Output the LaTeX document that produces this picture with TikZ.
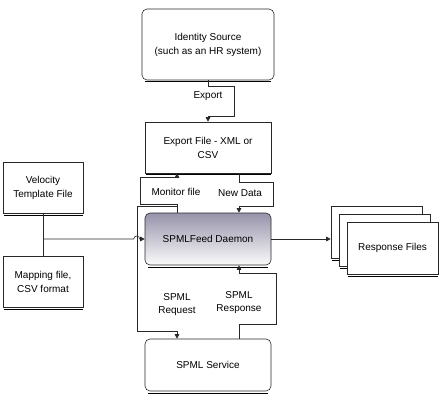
\documentclass[tikz,border=0pt]{standalone}
\usepackage{fontspec}
\setmainfont{Liberation Sans}
\usetikzlibrary{arrows.meta}

\definecolor{daemontop}{RGB}{150,147,170}
\definecolor{linegray}{RGB}{40,40,40}

\tikzset{
    box/.style={draw=linegray, fill=white, line width=0.6pt, align=center,
        font=\fontsize{10}{14}\selectfont,
        append after command={[draw=black!75, line width=2.4pt]
            ([xshift=0.8pt,yshift=-1.4pt]\tikzlastnode.south west)
            edge ([xshift=-0.8pt,yshift=-1.4pt]\tikzlastnode.south east)}},
    rbox/.style={draw=linegray, fill=white, line width=0.6pt, align=center,
        font=\fontsize{10}{14}\selectfont, rounded corners=5pt,
        append after command={[draw=black!75, line width=2.4pt]
            ([xshift=3.5pt,yshift=-1.4pt]\tikzlastnode.south west)
            edge ([xshift=-3.5pt,yshift=-1.4pt]\tikzlastnode.south east)}},
    conn/.style={draw=linegray, line width=0.6pt},
    arr/.style={conn, -{Triangle[length=4.5pt,width=4.5pt]}},
    lbl/.style={align=center, font=\fontsize{10}{13}\selectfont}
}

\begin{document}
\begin{tikzpicture}[x=1pt,y=1pt]

    \useasboundingbox[fill=white] (0,0) rectangle (440,400);

    % boxes
    \node[rbox, minimum width=132pt, minimum height=71pt] (ident) at (208,355.5)
        {Identity Source\\(such as an HR system)};
    \node[box, minimum width=126pt, minimum height=51pt] (expfile) at (208,252.5)
        {Export File - XML or\\CSV};
    \node[rbox, minimum width=126pt, minimum height=52pt,
        top color=daemontop, bottom color=white!96!daemontop] (daemon) at (208,161)
        {SPMLFeed Daemon};
    \node[rbox, minimum width=126pt, minimum height=52pt] (service) at (208,35)
        {SPML Service};
    \node[box, minimum width=80pt, minimum height=51pt] (velocity) at (43,212.5)
        {Velocity\\Template File};
    \node[box, minimum width=80pt, minimum height=51pt] (mapping) at (43,118.5)
        {Mapping file,\\CSV format};

    % stack of response files
    \node[box, minimum width=91pt, minimum height=52pt] (back) at (376.5,168) {};
    \node[box, minimum width=91pt, minimum height=52pt] (middle) at (384.5,160) {};
    \node[box, minimum width=91pt, minimum height=52pt] (front) at (392.5,152)
        {Response Files};

    % connectors
    \draw[arr] (ident.south) -- ++(0,-6) -- ++(26,0) -- ++(0,-30) -- ++(-26,0)
        -- (expfile.north);
    \draw[arr] ([xshift=-31pt]daemon.north) -- ++(0,8) -- ++(-37,0) -- ++(0,27)
        -- ++(37,0) -- ([xshift=-31pt]expfile.south);
    \draw[arr] ([xshift=31pt]expfile.south) -- ++(0,-9) -- ++(34,0) -- ++(0,-24)
        -- ++(-34,0) -- ([xshift=31pt]daemon.north);
    \draw[arr] ([xshift=-31pt]daemon.north) -- ++(0,6) -- ++(-40,0) -- ++(0,-125)
        -- ++(40,0) -- ([xshift=-31pt]service.north);
    \draw[arr] ([xshift=31pt]service.north) -- ++(0,14) -- ++(37,0) -- ++(0,51)
        -- ++(-37,0) -- ([xshift=31pt]daemon.south);

    \coordinate (junc) at (velocity.south |- daemon.west);
    \draw[conn] (velocity.south) -- (mapping.north);
    \draw[arr] (junc) -- ([xshift=-11pt]daemon.west)
        arc[start angle=180, end angle=0, radius=3pt] -- (daemon.west);
    \draw[arr] (daemon.east) -- (daemon.east -| back.west);

    % labels
    \node[lbl] (lexport) at (208,304) {Export};
    \node[lbl] (lmonitor) at (176,208) {Monitor file};
    \node[lbl] (lnewdata) at (240,207) {New Data};
    \node[lbl] (lrequest) at (177,95) {SPML\\Request};
    \node[lbl] (lresponse) at (239,97) {SPML\\Response};

\end{tikzpicture}
\end{document}
